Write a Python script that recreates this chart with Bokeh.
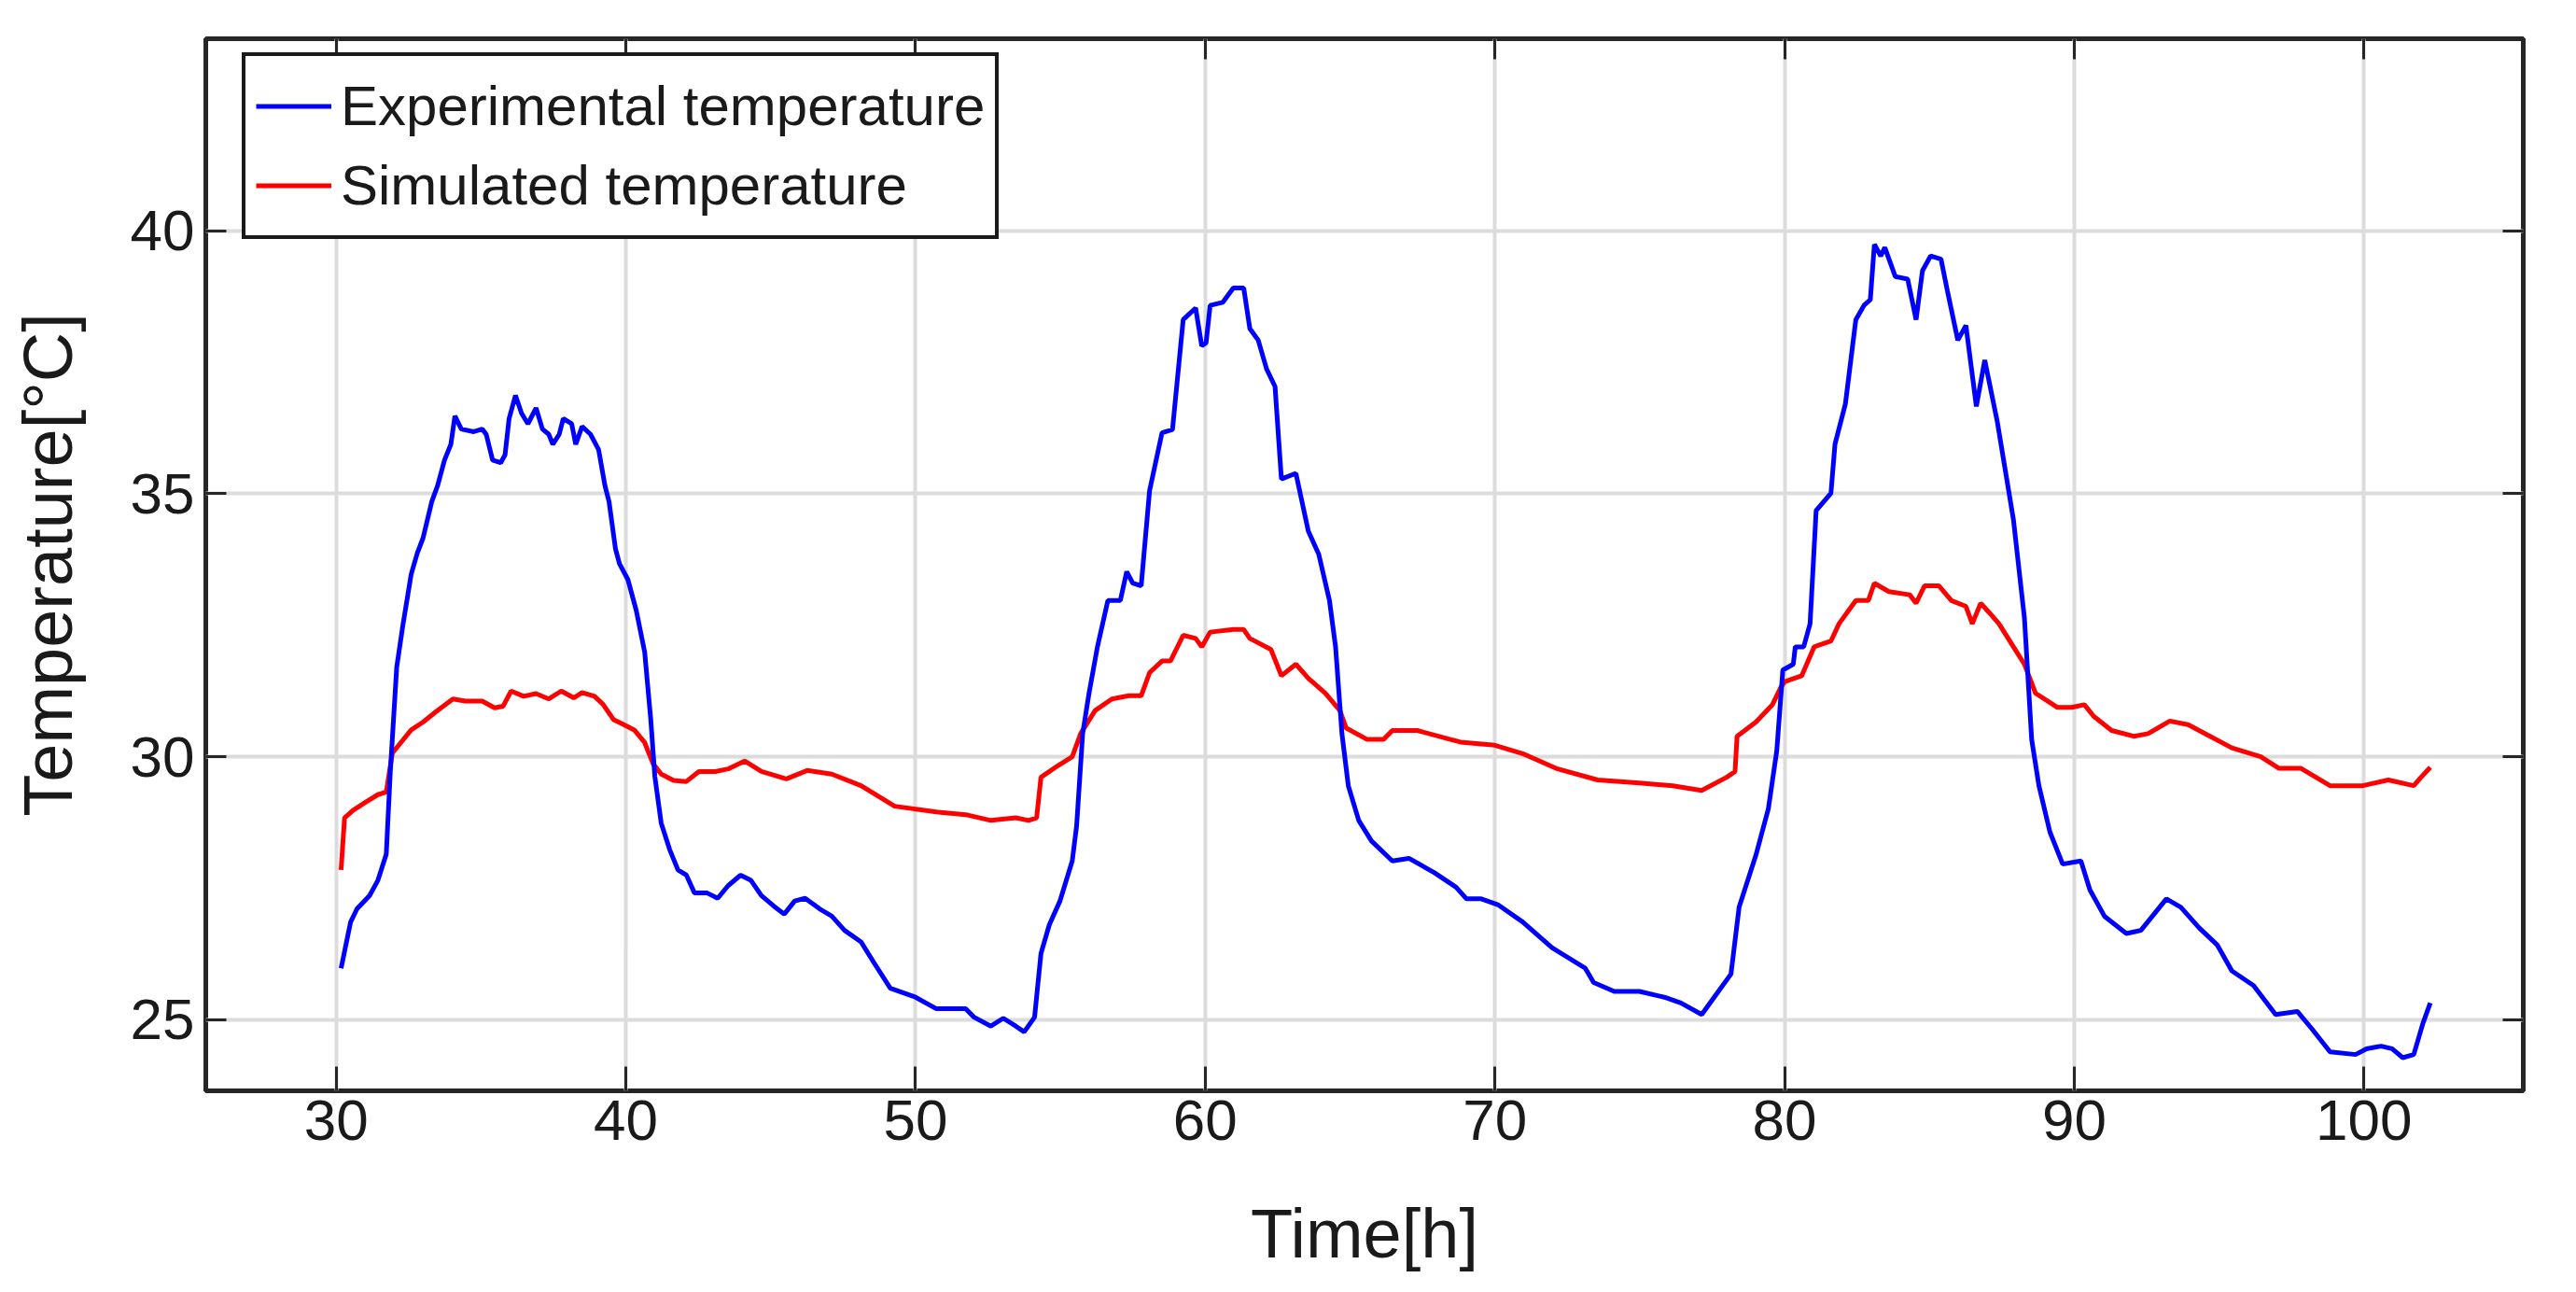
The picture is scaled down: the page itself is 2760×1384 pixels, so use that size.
from bokeh.plotting import figure
from bokeh.models import LinearAxis, FixedTicker, Range1d, Legend, LegendItem
from bokeh.embed import file_html
from bokeh.resources import INLINE

# Experimental temperature (blue)
exp_time = [30.17, 30.5, 30.72, 31.15, 31.44, 31.73, 31.87, 32.09, 32.3, 32.59, 32.8, 33.0, 33.3, 33.5,
            33.74, 33.96, 34.1, 34.32, 34.75, 35.04, 35.18, 35.4, 35.68, 35.83, 35.97, 36.19, 36.4, 36.62,
            36.9, 37.12, 37.34, 37.48, 37.7, 37.84, 38.13, 38.27, 38.49, 38.78, 39.06, 39.28, 39.42, 39.64,
            39.78, 40.07, 40.36, 40.65, 40.86, 41.0, 41.22, 41.51, 41.8, 42.09, 42.37, 42.81, 43.17, 43.53,
            43.96, 44.32, 44.68, 45.11, 45.47, 45.83, 46.19, 46.69,
            47.11, 47.55, 48.12, 48.56, 49.13, 50.0, 50.72, 51.73, 52.02, 52.6, 53.03, 53.46, 53.75, 54.11,
            54.33, 54.62, 54.98, 55.41, 55.56, 55.77, 55.99, 56.28, 56.64, 57.07, 57.29, 57.5, 57.79, 58.08,
            58.51, 58.87, 59.24, 59.67, 59.88, 60.03, 60.17, 60.61, 60.97, 61.33, 61.54, 61.83, 62.12, 62.41,
            62.63, 63.13, 63.56, 63.92, 64.29, 64.5, 64.72, 64.94, 65.3, 65.74, 66.46, 67.03, 67.9,
            68.66, 69.02, 69.53, 70.1, 70.96, 71.97, 73.12, 73.41, 74.12, 74.99, 75.85, 76.42, 77.14, 77.57,
            78.15, 78.43, 79.01, 79.44, 79.73, 79.94, 80.3, 80.37, 80.66, 80.88, 81.09, 81.6, 81.74, 82.1,
            82.46, 82.74, 82.96, 83.1, 83.32, 83.46, 83.82, 84.25, 84.54, 84.76, 85.04, 85.4, 85.62, 85.98,
            86.26, 86.62, 86.91, 87.34,
            87.9, 88.28, 88.53, 88.78, 89.16, 89.6, 90.23, 90.54, 91.04, 91.8, 92.3, 93.18, 93.68, 94.31,
            94.94, 95.44, 96.19, 96.95, 97.7, 98.2, 98.83, 99.71, 100.09, 100.59, 100.97, 101.34, 101.72,
            102.04, 102.29]
exp_temp = [25.98, 26.86, 27.11, 27.36, 27.65, 28.15, 29.72, 31.7, 32.49, 33.47, 33.87, 34.16, 34.85, 35.15,
            35.64, 35.94, 36.48, 36.23, 36.18, 36.23, 36.13, 35.64, 35.59, 35.74, 36.43, 36.87, 36.53, 36.33,
            36.63, 36.23, 36.13, 35.94, 36.13, 36.43, 36.33, 35.94, 36.28, 36.13, 35.84, 35.15, 34.85, 33.96,
            33.67, 33.37, 32.78, 31.99, 30.71, 29.63, 28.74, 28.24, 27.85, 27.75, 27.41, 27.41, 27.31, 27.55,
            27.75, 27.65, 27.36, 27.16, 27.01, 27.26, 27.31, 27.11,
            26.97, 26.70, 26.48, 26.09, 25.60, 25.43, 25.21, 25.21, 25.05, 24.88, 25.03, 24.88, 24.77, 25.05,
            26.26, 26.81, 27.25, 28.02, 28.68, 30.44, 31.21, 32.09, 32.97, 32.97, 33.52, 33.3, 33.25, 35.06,
            36.16, 36.22, 38.31, 38.53, 37.81, 37.87, 38.58, 38.64, 38.91, 38.91, 38.14, 37.92, 37.37, 37.04,
            35.28, 35.39, 34.29, 33.85, 32.97, 32.09, 30.44, 29.45, 28.79, 28.4, 28.02, 28.07, 27.8,
            27.52, 27.3, 27.3, 27.19, 26.86, 26.37, 25.98, 25.71, 25.54, 25.54, 25.43, 25.32, 25.1, 25.43,
            25.87, 27.14, 28.13, 29.01, 30.11, 31.65, 31.76, 32.09, 32.09, 32.53, 34.68, 35.01, 35.94, 36.71,
            38.31, 38.58, 38.69, 39.74, 39.52, 39.68, 39.13, 39.08, 38.31, 39.24, 39.52, 39.46, 38.86, 37.92,
            38.2, 36.66, 37.54, 36.38,
            34.51, 32.64, 30.33, 29.45, 28.57, 27.96, 28.02, 27.47, 26.97, 26.64, 26.7, 27.3, 27.14, 26.75,
            26.42, 25.93, 25.65, 25.1, 25.16, 24.83, 24.39, 24.34, 24.45, 24.5, 24.45, 24.28, 24.34,
            24.94, 25.32]

# Simulated temperature (red)
sim_time = [30.17, 30.29, 30.58, 31.0, 31.44, 31.73, 31.94, 32.16, 32.59, 33.0, 33.45, 34.03, 34.46, 35.04,
            35.47, 35.76, 36.04, 36.47, 36.9, 37.34, 37.77, 38.2, 38.49, 38.92, 39.21, 39.57, 39.93, 40.29,
            40.65, 40.94, 41.22, 41.65, 42.09, 42.52, 43.09, 43.53, 44.1, 44.68, 45.54, 46.26,
            47.11, 48.12, 49.28, 50.72, 51.73, 52.6, 53.46, 53.9, 54.18, 54.33, 54.91, 55.41, 55.7, 56.2,
            56.78, 57.36, 57.79, 58.08, 58.51, 58.8, 59.24, 59.67, 59.88, 60.17, 60.97, 61.33, 61.54, 62.27,
            62.63, 63.13, 63.56, 64.14, 64.65, 64.86, 65.59, 66.16, 66.46, 67.32, 68.47,
            68.81, 70.0, 70.96, 72.11, 73.55, 74.99, 76.14, 77.14, 78.0, 78.29, 78.36, 79.01, 79.58, 79.87,
            80.01, 80.59, 81.02, 81.6, 81.88, 82.46, 82.89, 83.1, 83.6, 84.32, 84.54, 84.83, 85.33, 85.76,
            86.26, 86.48, 86.77, 87.05,
            87.4, 87.9, 88.28, 88.66, 89.41, 89.91, 90.35, 90.67, 91.29, 92.05, 92.55, 93.3, 93.93, 94.69,
            95.44, 96.44, 97.07, 97.83, 98.83, 99.96, 100.84, 101.72, 101.97, 102.29]
sim_temp = [27.85, 28.84, 28.98, 29.13, 29.28, 29.33, 30.07, 30.22, 30.51, 30.66, 30.86, 31.1, 31.06, 31.06,
            30.93, 30.96, 31.25, 31.15, 31.2, 31.1, 31.25, 31.12, 31.22, 31.15, 31.0, 30.71, 30.61, 30.51,
            30.27, 29.87, 29.67, 29.55, 29.53, 29.72, 29.72, 29.77, 29.92, 29.72, 29.58, 29.74,
            29.67, 29.45, 29.06, 28.95, 28.9, 28.79, 28.84, 28.79, 28.84, 29.61, 29.83, 30.0, 30.44, 30.88,
            31.1, 31.16, 31.16, 31.6, 31.82, 31.82, 32.31, 32.25, 32.09, 32.37, 32.42, 32.42, 32.25, 32.04,
            31.54, 31.76, 31.49, 31.21, 30.88, 30.55, 30.33, 30.33, 30.5, 30.5, 30.33,
            30.28, 30.22, 30.06, 29.78, 29.56, 29.5, 29.45, 29.36, 29.61, 29.72, 30.39, 30.66, 30.99, 31.32,
            31.43, 31.54, 32.09, 32.2, 32.53, 32.97, 32.97, 33.3, 33.14, 33.08, 32.92, 33.25, 33.25, 32.97,
            32.86, 32.53, 32.92, 32.75,
            32.53, 32.09, 31.76, 31.21, 30.94, 30.94, 30.99, 30.77, 30.5, 30.39, 30.44, 30.68, 30.61, 30.39,
            30.17, 30.0, 29.78, 29.78, 29.45, 29.45, 29.56, 29.45, 29.61, 29.8]

x_ticks = [30, 40, 50, 60, 70, 80, 90, 100]
y_ticks = [25, 30, 35, 40]
x_label = "Time[h]"
y_label = "Temperature[°C]"
labels = ["Experimental temperature", "Simulated temperature"]

FONT = "Liberation Sans"
TXT = "#1a1a1a"
EDGE = "#262626"

p = figure(width=2744, height=1368, output_backend="svg", toolbar_location=None,
           x_range=Range1d(25.5, 105.5), y_range=Range1d(23.65, 43.65),
           min_border_left=220, min_border_right=41, min_border_top=41, min_border_bottom=200)
p.background_fill_color = "white"
p.border_fill_color = "white"
p.outline_line_color = EDGE
p.outline_line_width = 5
p.outline_line_alpha = 1.0

r_sim = p.line(sim_time, sim_temp, line_color="#ff0000", line_width=5)
r_exp = p.line(exp_time, exp_temp, line_color="#0000ff", line_width=5)

xt = FixedTicker(ticks=x_ticks)
yt = FixedTicker(ticks=y_ticks)

bottom = p.xaxis[0]
left = p.yaxis[0]

def style(ax, ticker, inlen, show_labels):
    ax.ticker = ticker
    ax.major_tick_in = inlen
    ax.major_tick_out = 0
    ax.minor_tick_line_color = None
    ax.major_tick_line_color = EDGE
    ax.major_tick_line_width = 3
    ax.axis_line_color = None
    ax.major_label_text_font = FONT
    if show_labels:
        ax.major_label_text_font_size = "62px"
        ax.major_label_text_color = TXT
    else:
        ax.major_label_text_font_size = "1px"
        ax.major_label_text_color = None
        ax.major_label_standoff = 0

style(bottom, xt, 26, True)
style(left, yt, 22, True)
bottom.major_label_standoff = 10
left.major_label_standoff = 12

top = LinearAxis()
style(top, xt, 22, False)
p.add_layout(top, "above")
right = LinearAxis()
style(right, yt, 22, False)
p.add_layout(right, "right")

bottom.axis_label = x_label
left.axis_label = y_label
for ax, so in ((bottom, 56), (left, 44)):
    ax.axis_label_text_font = FONT
    ax.axis_label_text_font_size = "74px"
    ax.axis_label_text_font_style = "normal"
    ax.axis_label_text_color = TXT
    ax.axis_label_standoff = so

p.xgrid.ticker = xt
p.ygrid.ticker = yt
for g in (p.xgrid, p.ygrid):
    g.grid_line_color = "#dcdcdc"
    g.grid_line_width = 4

legend = Legend(items=[LegendItem(label=labels[0], renderers=[r_exp]),
                       LegendItem(label=labels[1], renderers=[r_sim])],
                location=(39, 912), margin=0, padding=11, spacing=0,
                glyph_width=81, glyph_height=85, label_height=85, label_standoff=10,
                label_text_font=FONT, label_text_font_size="60px", label_text_color=TXT,
                border_line_color="#1a1a1a", border_line_width=4, border_line_alpha=1.0,
                background_fill_color="white", background_fill_alpha=1.0)
p.add_layout(legend)

open("out.html", "w").write(file_html(p, INLINE))
